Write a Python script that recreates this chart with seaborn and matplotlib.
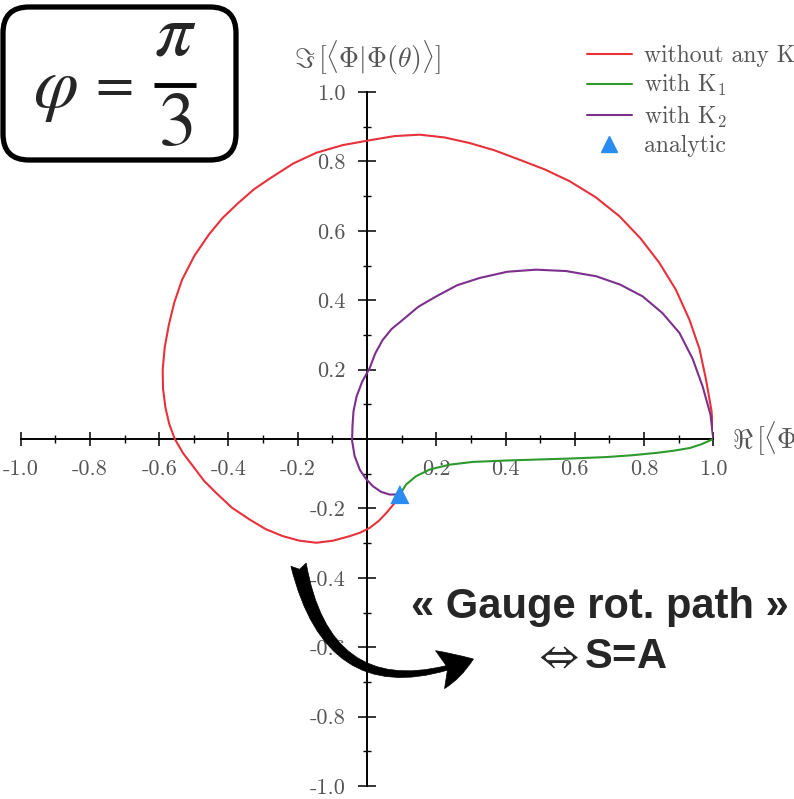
import numpy as np
import pandas as pd
import matplotlib
matplotlib.use("Agg")
import matplotlib.pyplot as plt
import seaborn as sns
from matplotlib.lines import Line2D
from matplotlib.patches import FancyBboxPatch, FancyArrowPatch, ArrowStyle
from matplotlib.transforms import IdentityTransform

# Overlap <Phi|Phi(theta)> in the complex plane, three gauge choices
red_re = [1.0, 0.995, 0.979, 0.960, 0.931, 0.892, 0.844, 0.790, 0.729, 0.660,
          0.585, 0.513, 0.440, 0.368, 0.296, 0.224, 0.152, 0.080, 0.008, -0.070,
          -0.146, -0.213, -0.274, -0.326, -0.373, -0.417, -0.456, -0.499, -0.534,
          -0.556, -0.572, -0.584, -0.590, -0.589, -0.582, -0.571, -0.555, -0.531,
          -0.502, -0.471, -0.435, -0.390, -0.339, -0.292, -0.243, -0.195, -0.146,
          -0.098, -0.050, -0.020, 0.008, 0.034, 0.056, 0.077, 0.095]
red_im = [0.0, 0.080, 0.171, 0.260, 0.344, 0.430, 0.508, 0.578, 0.642, 0.697,
          0.743, 0.777, 0.805, 0.832, 0.853, 0.869, 0.877, 0.873, 0.861, 0.847,
          0.825, 0.794, 0.755, 0.720, 0.679, 0.637, 0.590, 0.527, 0.459,
          0.395, 0.330, 0.265, 0.200, 0.145, 0.090, 0.043, 0.0, -0.041,
          -0.079, -0.120, -0.156, -0.198, -0.232, -0.260, -0.280, -0.293, -0.299,
          -0.293, -0.280, -0.270, -0.256, -0.236, -0.213, -0.188, -0.160]

green_re = [1.0, 0.966, 0.932, 0.884, 0.836, 0.764, 0.692, 0.595, 0.498, 0.402,
            0.306, 0.238, 0.181, 0.142, 0.113, 0.095]
green_im = [0.0, -0.015, -0.026, -0.034, -0.040, -0.047, -0.052, -0.056, -0.059, -0.062,
            -0.066, -0.074, -0.088, -0.107, -0.131, -0.160]

purple_re = [1.0, 0.992, 0.969, 0.940, 0.902, 0.853, 0.796, 0.731, 0.662, 0.575,
             0.488, 0.405, 0.325, 0.260, 0.200, 0.148, 0.104, 0.071, 0.045, 0.024,
             0.008, -0.014, -0.030, -0.039, -0.042, -0.043, -0.036, -0.021, -0.003,
             0.017, 0.040, 0.065, 0.095]
purple_im = [0.0, 0.070, 0.152, 0.232, 0.306, 0.363, 0.411, 0.445, 0.469, 0.484,
             0.488, 0.482, 0.464, 0.443, 0.411, 0.381, 0.344, 0.317, 0.285, 0.247,
             0.205, 0.165, 0.123, 0.080, 0.036, -0.005, -0.048, -0.088, -0.115,
             -0.136, -0.152, -0.160, -0.160]

analytic_re = [0.095]
analytic_im = [-0.160]

series_labels = ["without any K", r"with $\mathrm{K}_1$", r"with $\mathrm{K}_2$", "analytic"]
series_colors = ["#e8313a", "#2e9a2e", "#7d2f8c", "#2a8cf0"]

major_ticks = [-1.0, -0.8, -0.6, -0.4, -0.2, 0.2, 0.4, 0.6, 0.8, 1.0]
minor_ticks = [-0.9, -0.7, -0.5, -0.3, -0.1, 0.1, 0.3, 0.5, 0.7, 0.9]
tick_labels = ["-1.0", "-0.8", "-0.6", "-0.4", "-0.2", "0.2", "0.4", "0.6", "0.8", "1.0"]

sns.set_style("ticks")
plt.rcParams["font.family"] = ["cmr10", "DejaVu Serif"]
plt.rcParams["mathtext.fontset"] = "cm"
plt.rcParams["axes.unicode_minus"] = False
plt.rcParams["axes.formatter.use_mathtext"] = True

W, H = 794, 799
fig = plt.figure(figsize=(W / 100, H / 100), dpi=100)
ax = fig.add_axes([20.7 / W, 13 / H, 692.6 / W, 694 / H])

curves = [
    pd.DataFrame({"re": red_re, "im": red_im}),
    pd.DataFrame({"re": green_re, "im": green_im}),
    pd.DataFrame({"re": purple_re, "im": purple_im}),
]
for df, col in zip(curves, series_colors[:3]):
    sns.lineplot(data=df, x="re", y="im", sort=False, estimator=None,
                 color=col, linewidth=1.5, ax=ax, zorder=3)
sns.scatterplot(x=analytic_re, y=analytic_im, marker="^", s=190, color=series_colors[3],
                edgecolor="none", ax=ax, zorder=4)

ax.set_xlim(-1.0, 1.0)
ax.set_ylim(-1.0, 1.0)
ax.set_xlabel("")
ax.set_ylabel("")
for side in ["top", "right"]:
    ax.spines[side].set_visible(False)
for side in ["left", "bottom"]:
    ax.spines[side].set_position("zero")
    ax.spines[side].set_color("black")
    ax.spines[side].set_linewidth(1.4)

ax.set_xticks(major_ticks)
ax.set_xticklabels(tick_labels)
ax.set_yticks(major_ticks)
ax.set_yticklabels(tick_labels)
ax.set_xticks(minor_ticks, minor=True)
ax.set_yticks(minor_ticks, minor=True)
ax.tick_params(which="both", bottom=True, left=True, top=False, right=False)
ax.tick_params(axis="x", which="major", direction="inout", length=10, width=1.1,
               color="black", labelsize=16, labelcolor="#555555", pad=10)
ax.tick_params(axis="y", which="major", direction="inout", length=13, width=1.1,
               color="black", labelsize=16, labelcolor="#555555", pad=9)
ax.tick_params(axis="both", which="minor", direction="inout", length=6, width=1.0, color="black")

ax.text(0.0, 1.10, r"$\Im\,[\langle\Phi|\Phi(\theta)\rangle]$", ha="center", va="center",
        fontsize=20, color="#555555", clip_on=False)
ax.text(1.055, 0.0, r"$\Re\,[\langle\Phi|\Phi(\theta)\rangle]$", ha="left", va="center",
        fontsize=20, color="#555555", clip_on=False)

handles = [Line2D([], [], color=c, lw=1.5) for c in series_colors[:3]]
handles.append(Line2D([], [], color=series_colors[3], marker="^", linestyle="none", markersize=12))
fig.legend(handles, series_labels, loc="upper left", bbox_to_anchor=(587 / W, 1 - 45 / H),
           bbox_transform=fig.transFigure, frameon=False, fontsize=17, handlelength=1.9,
           handletextpad=0.5, labelspacing=0.22, borderpad=0, borderaxespad=0,
           labelcolor="#555555")

# Parameter box in the upper-left corner
box = FancyBboxPatch((3, H - 160), 233, 153, boxstyle="round,pad=0,rounding_size=26",
                     transform=IdentityTransform(), facecolor="white", edgecolor="black",
                     linewidth=3.8, zorder=5)
fig.patches.append(box)
fig.text(55 / W, 1 - 92 / H, r"$\varphi$", ha="center", va="center",
         fontsize=52, math_fontfamily="stix", zorder=6)
fig.text(110 / W, 1 - 86 / H, r"$=$", ha="center", va="center",
         fontsize=40, math_fontfamily="stix", zorder=6)
fig.text(175 / W, 1 - 36 / H, r"$\pi$", ha="center", va="center",
         fontsize=54, math_fontfamily="stix", zorder=6)
fig.text(175 / W, 1 - 126 / H, r"$3$", ha="center", va="center",
         fontsize=54, math_fontfamily="stix", zorder=6)
fig.add_artist(Line2D([154, 196], [H - 85, H - 85], color="black", lw=3.5,
                      transform=IdentityTransform(), solid_capstyle="butt", zorder=6))

# Curved arrow and annotation
arrow = FancyArrowPatch((298, H - 562), (476, H - 658), connectionstyle="arc3,rad=0.6",
                        arrowstyle=ArrowStyle.Fancy(head_length=0.9, head_width=1.0, tail_width=0.4),
                        mutation_scale=28, transform=IdentityTransform(),
                        facecolor="black", edgecolor="black", linewidth=0.5, zorder=6)
fig.patches.append(arrow)
fig.text(600 / W, 1 - 607 / H, "« Gauge rot. path »", ha="center", va="center",
         fontsize=30, fontweight="bold", family=["Liberation Sans", "DejaVu Sans"], zorder=6)
fig.text(600 / W, 1 - 657 / H, r"$\Leftrightarrow$S=A", ha="center", va="center",
         fontsize=30, fontweight="bold", family=["Liberation Sans", "DejaVu Sans"],
         math_fontfamily="stixsans", zorder=6)

fig.savefig("out.png", dpi=100)
